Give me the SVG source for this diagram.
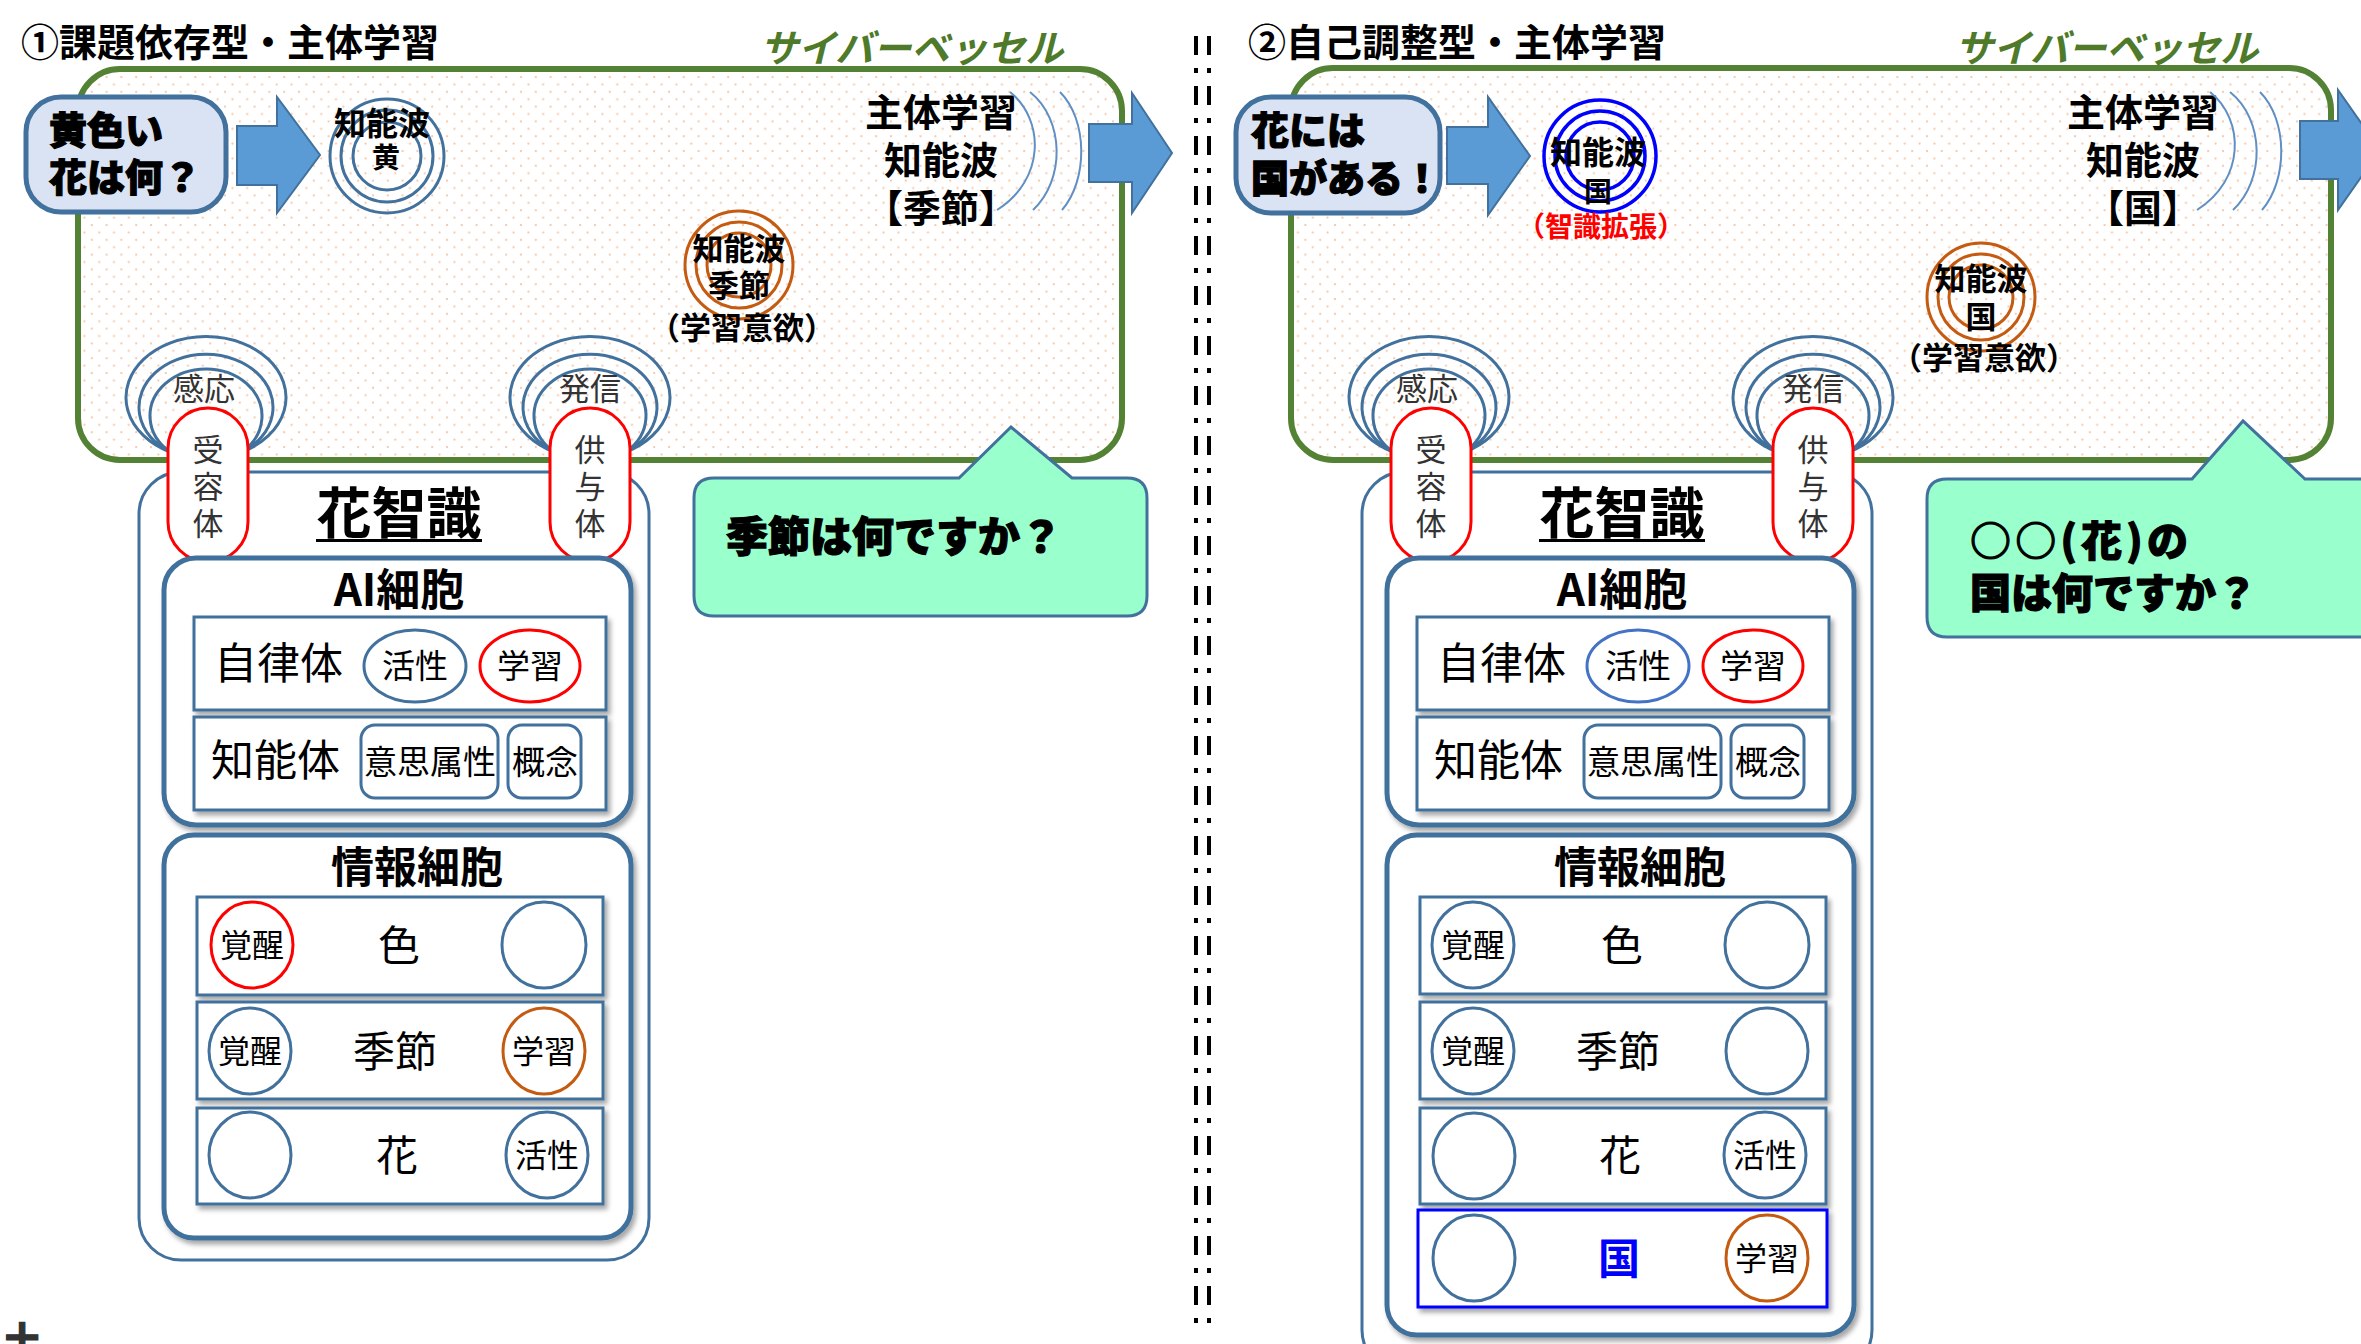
<svg xmlns="http://www.w3.org/2000/svg" width="2361" height="1344" viewBox="0 0 2361 1344">
<defs>
<pattern id="dots" width="14.8" height="14.8" patternUnits="userSpaceOnUse">
<rect width="14.8" height="14.8" fill="#fff"/>
<circle cx="3" cy="3" r="1.1" fill="#f6c2a0"/>
<circle cx="10.4" cy="10.4" r="1.1" fill="#f6c2a0"/>
</pattern>
<filter id="sh" x="-5%" y="-5%" width="115%" height="125%">
<feDropShadow dx="3" dy="4" stdDeviation="2.5" flood-color="#000" flood-opacity="0.35"/>
</filter>
<style>
text { font-family: "Noto Sans CJK JP", "Noto Sans", sans-serif; fill: #000; }
.b { font-weight: 700; }
.h { font-weight: 900; stroke: #000; stroke-width: 1.2px; }
.m { text-anchor: middle; }
.g { fill: #333; }
.v { writing-mode: vertical-rl; letter-spacing: 6px; text-anchor: middle; font-size: 31px; fill: #333; }
.title { font-size: 38px; font-weight: 700; }
.cyt { font-size: 38px; fill: #4e7a2a; font-style: italic; font-weight: 700; }
.ring { fill: none; stroke: #41719c; stroke-width: 3; }
.oring { fill: none; stroke: #c55a11; stroke-width: 3; }
.bring { fill: none; stroke: #0000ff; stroke-width: 3.5; }
.arc { fill: none; stroke: #5f8fc4; stroke-width: 2; }
.arrow { fill: #5b9bd5; stroke: #41719c; stroke-width: 2; }
.cyber { fill: url(#dots); stroke: #548235; stroke-width: 6; }
.qbox { fill: #dae3f3; stroke: #41719c; stroke-width: 5; }
.pill { fill: #fff; stroke: #ff0000; stroke-width: 3; }
.cont { fill: #fff; stroke: #41719c; stroke-width: 3; }
.cell { fill: #fff; stroke: #41719c; stroke-width: 5; filter: url(#sh); }
.box { fill: #fff; stroke: #41719c; stroke-width: 3; filter: url(#sh); }
.boxb { fill: #fff; stroke: #0000ff; stroke-width: 3; filter: url(#sh); }
.el { fill: #fff; stroke: #41719c; stroke-width: 3; }
.el2 { fill: #fff; stroke: #4472c4; stroke-width: 3; }
.elr { fill: #fff; stroke: #ff0000; stroke-width: 3; }
.elo { fill: #fff; stroke: #c55a11; stroke-width: 3; }
.rr { fill: #fff; stroke: #41719c; stroke-width: 3; }
.bubble { fill: #99ffcc; stroke: #41719c; stroke-width: 3; }
.f31 { font-size: 31px; }
.f33 { font-size: 33px; }
.f32 { font-size: 32px; }
.f42 { font-size: 42px; }
.f43 { font-size: 43px; }
</style>
</defs>
<rect width="2361" height="1344" fill="#fff"/>

<!-- ===== LEFT PANEL ===== -->
<g id="cyber-vessel-1">
<rect class="cyber" x="78" y="69" width="1044" height="391" rx="42"/>
</g>
<text id="title-1" class="title" x="21" y="56">①課題依存型・主体学習</text>
<text id="cyber-label-1" class="cyt" x="760" y="62">サイバーベッセル</text>

<g id="wave-yellow">
<circle class="ring" cx="387" cy="156" r="57"/>
<circle class="ring" cx="387" cy="156" r="46"/>
<circle class="ring" cx="387" cy="156" r="34"/>
<text class="b m"><tspan class="f32" x="382" y="135">知能波</tspan><tspan style="font-size:28px" x="386" y="168">黄</tspan></text>
</g>

<g id="wave-season">
<circle class="oring" cx="739" cy="265" r="54"/>
<circle class="oring" cx="739" cy="265" r="43"/>
<circle class="oring" cx="739" cy="265" r="32"/>
<text class="b m f31"><tspan x="739" y="260">知能波</tspan><tspan x="739" y="297">季節</tspan><tspan x="742" y="339">（学習意欲）</tspan></text>
</g>

<g id="output-wave-1">
<text class="b m" style="font-size:38px"><tspan x="941" y="126">主体学習</tspan><tspan x="941" y="174">知能波</tspan><tspan x="941" y="222">【季節】</tspan></text>
<path class="arc" d="M 1010 92 C 1045 120 1045 180 997 210"/>
<path class="arc" d="M 1030 92 C 1065 120 1065 180 1033 210"/>
<path class="arc" d="M 1060 92 C 1088 120 1088 180 1062 210"/>
</g>

<g id="question-1">
<rect class="qbox" x="26" y="97" width="200" height="115" rx="35"/>
<text class="h" style="font-size:38px"><tspan x="49" y="144">黄色い</tspan><tspan x="49" y="191">花は何？</tspan></text>
</g>

<g id="connectors-1">
<polygon class="arrow" points="237,126 277,126 277,97 320,155 277,213 277,185 237,185"/>
<polygon class="arrow" points="1089,124 1132,124 1132,93 1172,153 1132,213 1132,182 1089,182"/>
</g>

<g id="sense-rings-1">
<path class="ring" d="M 170 452 A 80 61 0 1 1 242 452"/>
<path class="ring" d="M 170 452 A 67 53 0 1 1 242 452"/>
<path class="ring" d="M 170 452 A 56 47 0 1 1 242 452"/>
<text class="g m f31" x="204" y="400">感応</text>
</g>
<g id="send-rings-1">
<path class="ring" d="M 554 452 A 80 61 0 1 1 626 452"/>
<path class="ring" d="M 554 452 A 67 53 0 1 1 626 452"/>
<path class="ring" d="M 554 452 A 56 47 0 1 1 626 452"/>
<text class="g m f31" x="590" y="400">発信</text>
</g>

<g id="flower-knowledge-1">
<rect class="cont" x="139" y="472" width="510" height="788" rx="42"/>
<text class="b m" style="font-size:55px" x="399" y="533">花智識</text>
<rect x="316" y="539" width="166" height="3" fill="#000"/>
</g>

<g id="receptor-1">
<rect class="pill" x="168" y="408" width="80" height="154" rx="40"/>
<text class="v" x="208" y="489">受容体</text>
</g>
<g id="donor-1">
<rect class="pill" x="550" y="408" width="80" height="154" rx="40"/>
<text class="v" x="590" y="489">供与体</text>
</g>

<g id="ai-cell-1">
<rect class="cell" x="164" y="558" width="467" height="267" rx="32"/>
<text class="b m" style="font-size:44px" x="399" y="606">AI細胞</text>
<rect class="box" x="194" y="617" width="412" height="93"/>
<text class="f43" x="214" y="679">自律体</text>
<ellipse class="el" cx="415" cy="666" rx="51" ry="36"/>
<text class="m f33" x="415" y="678">活性</text>
<ellipse class="elr" cx="530" cy="666" rx="50" ry="36"/>
<text class="m f33" x="530" y="678">学習</text>
<rect class="box" x="194" y="717" width="412" height="93"/>
<text class="f43" x="211" y="776">知能体</text>
<rect class="rr" x="361" y="725" width="137" height="73" rx="14"/>
<text class="m f33" x="430" y="774">意思属性</text>
<rect class="rr" x="508" y="725" width="73" height="73" rx="14"/>
<text class="m f33" x="545" y="774">概念</text>
</g>

<g id="info-cell-1">
<rect class="cell" x="164" y="835" width="467" height="403" rx="30"/>
<text class="b m f43" x="417" y="883">情報細胞</text>
<rect class="box" x="197" y="897" width="406" height="98"/>
<ellipse class="elr" cx="252" cy="945" rx="41" ry="43"/>
<text class="m f32" x="252" y="957">覚醒</text>
<text class="m f42" x="399" y="961">色</text>
<ellipse class="el" cx="544" cy="945" rx="42" ry="43"/>
<rect class="box" x="197" y="1002" width="406" height="97"/>
<ellipse class="el" cx="250" cy="1051" rx="41" ry="43"/>
<text class="m f32" x="250" y="1063">覚醒</text>
<text class="m f42" x="395" y="1067">季節</text>
<ellipse class="elo" cx="544" cy="1051" rx="41" ry="43"/>
<text class="m f32" x="544" y="1063">学習</text>
<rect class="box" x="197" y="1108" width="406" height="96"/>
<ellipse class="el" cx="250" cy="1155" rx="41" ry="43"/>
<text class="m f42" x="397" y="1171">花</text>
<ellipse class="el" cx="547" cy="1155" rx="41" ry="43"/>
<text class="m f32" x="547" y="1167">活性</text>
</g>

<g id="bubble-1">
<path class="bubble" d="M 714 478 L 959 478 L 1011 427 L 1072 478 L 1127 478 Q 1147 478 1147 498 L 1147 596 Q 1147 616 1127 616 L 714 616 Q 694 616 694 596 L 694 498 Q 694 478 714 478 Z"/>
<text class="h" style="font-size:42px" x="726" y="552">季節は何ですか？</text>
</g>

<text class="h g" style="font-size:34px; stroke:#333" x="5" y="1352">十</text>

<!-- ===== SEPARATOR ===== -->
<g id="separator" stroke="#000" stroke-width="4" stroke-dasharray="19 13 5 13">
<line x1="1196" y1="36" x2="1196" y2="1334"/>
<line x1="1209" y1="36" x2="1209" y2="1334"/>
</g>

<!-- ===== RIGHT PANEL ===== -->
<g id="cyber-vessel-2">
<rect class="cyber" x="1291" y="68" width="1040" height="392" rx="42"/>
</g>
<text id="title-2" class="title" x="1248" y="56">②自己調整型・主体学習</text>
<text id="cyber-label-2" class="cyt" x="1955" y="62">サイバーベッセル</text>

<g id="wave-country">
<circle class="bring" cx="1600" cy="156" r="56"/>
<circle class="bring" cx="1600" cy="156" r="45"/>
<circle class="bring" cx="1600" cy="156" r="34"/>
<text class="b m"><tspan class="f32" x="1598" y="164">知能波</tspan><tspan style="font-size:28px" x="1598" y="202">国</tspan><tspan style="font-size:28px; fill:#ff0000" x="1601" y="237">（智識拡張）</tspan></text>
</g>

<g id="wave-country-motivation">
<circle class="oring" cx="1981" cy="297" r="54"/>
<circle class="oring" cx="1981" cy="297" r="43"/>
<circle class="oring" cx="1981" cy="297" r="32"/>
<text class="b m f31"><tspan x="1981" y="290">知能波</tspan><tspan x="1981" y="328">国</tspan><tspan x="1984" y="369">（学習意欲）</tspan></text>
</g>

<g id="output-wave-2">
<text class="b m" style="font-size:38px"><tspan x="2143" y="126">主体学習</tspan><tspan x="2143" y="174">知能波</tspan><tspan x="2143" y="222">【国】</tspan></text>
<path class="arc" d="M 2210 92 C 2245 120 2245 180 2197 210"/>
<path class="arc" d="M 2230 92 C 2265 120 2265 180 2233 210"/>
<path class="arc" d="M 2260 92 C 2288 120 2288 180 2262 210"/>
</g>

<g id="question-2">
<rect class="qbox" x="1236" y="97" width="204" height="116" rx="35"/>
<text class="h" style="font-size:38px"><tspan x="1251" y="144">花には</tspan><tspan x="1251" y="192">国がある！</tspan></text>
</g>

<g id="connectors-2">
<polygon class="arrow" points="1447,127 1488,127 1488,97 1530,156 1488,215 1488,184 1447,184"/>
<polygon class="arrow" points="2300,121 2338,121 2338,90 2380,150 2338,210 2338,179 2300,179"/>
</g>

<g id="sense-rings-2">
<path class="ring" d="M 1393 452 A 80 61 0 1 1 1465 452"/>
<path class="ring" d="M 1393 452 A 67 53 0 1 1 1465 452"/>
<path class="ring" d="M 1393 452 A 56 47 0 1 1 1465 452"/>
<text class="g m f31" x="1427" y="400">感応</text>
</g>
<g id="send-rings-2">
<path class="ring" d="M 1777 452 A 80 61 0 1 1 1849 452"/>
<path class="ring" d="M 1777 452 A 67 53 0 1 1 1849 452"/>
<path class="ring" d="M 1777 452 A 56 47 0 1 1 1849 452"/>
<text class="g m f31" x="1813" y="400">発信</text>
</g>

<g id="flower-knowledge-2">
<rect class="cont" x="1362" y="472" width="510" height="900" rx="42"/>
<text class="b m" style="font-size:55px" x="1622" y="533">花智識</text>
<rect x="1539" y="539" width="166" height="3" fill="#000"/>
</g>

<g id="receptor-2">
<rect class="pill" x="1391" y="408" width="80" height="154" rx="40"/>
<text class="v" x="1431" y="489">受容体</text>
</g>
<g id="donor-2">
<rect class="pill" x="1773" y="408" width="80" height="154" rx="40"/>
<text class="v" x="1813" y="489">供与体</text>
</g>

<g id="ai-cell-2">
<rect class="cell" x="1387" y="558" width="467" height="267" rx="32"/>
<text class="b m" style="font-size:44px" x="1622" y="606">AI細胞</text>
<rect class="box" x="1417" y="617" width="412" height="93"/>
<text class="f43" x="1437" y="679">自律体</text>
<ellipse class="el2" cx="1638" cy="666" rx="51" ry="36"/>
<text class="m f33" x="1638" y="678">活性</text>
<ellipse class="elr" cx="1753" cy="666" rx="50" ry="36"/>
<text class="m f33" x="1753" y="678">学習</text>
<rect class="box" x="1417" y="717" width="412" height="93"/>
<text class="f43" x="1434" y="776">知能体</text>
<rect class="rr" x="1584" y="725" width="137" height="73" rx="14"/>
<text class="m f33" x="1653" y="774">意思属性</text>
<rect class="rr" x="1731" y="725" width="73" height="73" rx="14"/>
<text class="m f33" x="1768" y="774">概念</text>
</g>

<g id="info-cell-2">
<rect class="cell" x="1387" y="835" width="467" height="500" rx="30"/>
<text class="b m f43" x="1640" y="883">情報細胞</text>
<rect class="box" x="1420" y="897" width="406" height="97"/>
<ellipse class="el" cx="1473" cy="945" rx="41" ry="43"/>
<text class="m f32" x="1473" y="957">覚醒</text>
<text class="m f42" x="1622" y="961">色</text>
<ellipse class="el" cx="1767" cy="945" rx="42" ry="43"/>
<rect class="box" x="1420" y="1002" width="406" height="97"/>
<ellipse class="el" cx="1473" cy="1051" rx="41" ry="43"/>
<text class="m f32" x="1473" y="1063">覚醒</text>
<text class="m f42" x="1618" y="1067">季節</text>
<ellipse class="el" cx="1767" cy="1051" rx="41" ry="43"/>
<rect class="box" x="1420" y="1108" width="406" height="96"/>
<ellipse class="el" cx="1474" cy="1156" rx="41" ry="43"/>
<text class="m f42" x="1620" y="1171">花</text>
<ellipse class="el" cx="1765" cy="1155" rx="41" ry="43"/>
<text class="m f32" x="1765" y="1167">活性</text>
<rect class="boxb" x="1418" y="1210" width="409" height="97"/>
<ellipse class="el" cx="1474" cy="1258" rx="41" ry="43"/>
<text class="b m f42" style="fill:#0000ff" x="1619" y="1274">国</text>
<ellipse class="elo" cx="1767" cy="1258" rx="41" ry="43"/>
<text class="m f32" x="1767" y="1270">学習</text>
</g>

<g id="bubble-2">
<path class="bubble" d="M 1947 479 L 2192 479 L 2243 421 L 2305 479 L 2420 479 L 2420 637 L 1947 637 Q 1927 637 1927 617 L 1927 499 Q 1927 479 1947 479 Z"/>
<text class="h" style="font-size:41px"><tspan x="1970" y="556" textLength="218">○○(花)の</tspan><tspan x="1970" y="608">国は何ですか？</tspan></text>
</g>
</svg>
